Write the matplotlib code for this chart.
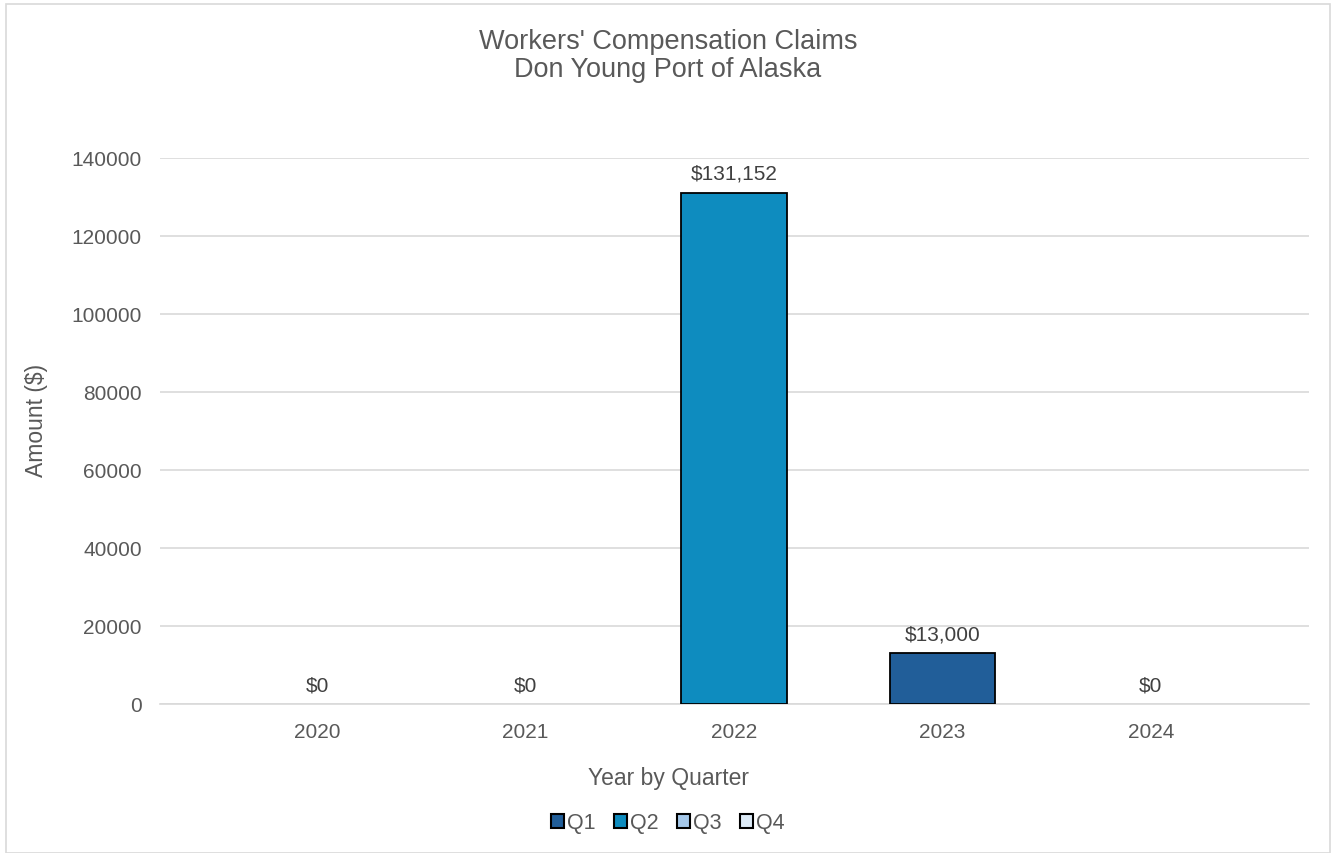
import matplotlib
matplotlib.use("Agg")
import matplotlib.pyplot as plt
from matplotlib.patches import Rectangle
import numpy as np

plt.rcParams['font.family'] = ['Liberation Sans', 'DejaVu Sans']

years = ["2020", "2021", "2022", "2023", "2024"]
q1 = [0, 0, 0, 13000, 0]
q2 = [0, 0, 131152, 0, 0]
q3 = [0, 0, 0, 0, 0]
q4 = [0, 0, 0, 0, 0]
series = {"Q1": q1, "Q2": q2, "Q3": q3, "Q4": q4}
colors = {"Q1": "#215E99", "Q2": "#0E8CBF", "Q3": "#A5C8EA", "Q4": "#DDEBF7"}
yticks = [0, 20000, 40000, 60000, 80000, 100000, 120000, 140000]

txt = "#595959"
fig = plt.figure(figsize=(13.36, 8.54), dpi=100)
ax = fig.add_axes([160/1336, 1-705/854, (1309-160)/1336, (705-159)/854])

x = np.arange(len(years))
bottom = np.zeros(len(years))
for name, vals in series.items():
    vals = np.array(vals, dtype=float)
    lw = [1.3 if v > 0 else 0 for v in vals]
    ax.bar(x, vals, width=0.505, bottom=bottom, color=colors[name],
           edgecolor="black", linewidth=lw, zorder=3)
    bottom += vals

totals = bottom
for xi, t in zip(x, totals):
    ax.annotate(f"${t:,.0f}", (xi, t), xytext=(0, 7), textcoords="offset points",
                ha="center", va="bottom", fontsize=15, color="#404040")

ax.set_xlim(-0.753, 4.758)
ax.set_ylim(0, 140000)
ax.set_yticks(yticks)
ax.set_yticklabels([str(v) for v in yticks])
ax.set_xticks(x)
ax.set_xticklabels(years)
ax.tick_params(axis='both', length=0, labelsize=15, colors=txt)
ax.tick_params(axis='x', pad=13)
ax.tick_params(axis='y', pad=13)
ax.grid(axis='y', color="#D9D9D9", linewidth=1.2, zorder=0)
for s in ["top", "right", "left"]:
    ax.spines[s].set_visible(False)
ax.spines["bottom"].set_color("#D9D9D9")
ax.spines["bottom"].set_linewidth(1.2)

fig.text(36/1336, 1-420/854, "Amount ($)", ha="center", va="center", rotation=90,
         fontsize=16.5, color=txt)
fig.text(668/1336, 1-779/854, "Year by Quarter", ha="center", va="center",
         fontsize=16.5, color=txt)
fig.text(668/1336, 1-56/854, "Workers' Compensation Claims\nDon Young Port of Alaska",
         ha="center", va="center", fontsize=19.5, color=txt, linespacing=1.12)

handles = [Rectangle((0, 0), 1, 1, facecolor=colors[n], edgecolor="black", linewidth=1.5)
           for n in series]
fig.legend(handles, list(series.keys()), loc="center", bbox_to_anchor=(668/1336, 1-824/854),
           ncol=4, frameon=False, fontsize=15.5, handlelength=0.6, handleheight=0.6,
           handletextpad=0.15, columnspacing=0.85, labelcolor=txt)

fig.patches.append(Rectangle((6/1336, 0), 1324/1336, 1-5/854, transform=fig.transFigure,
                             fill=False, edgecolor="#D9D9D9", linewidth=1.2))

fig.savefig("out.png", dpi=100)
